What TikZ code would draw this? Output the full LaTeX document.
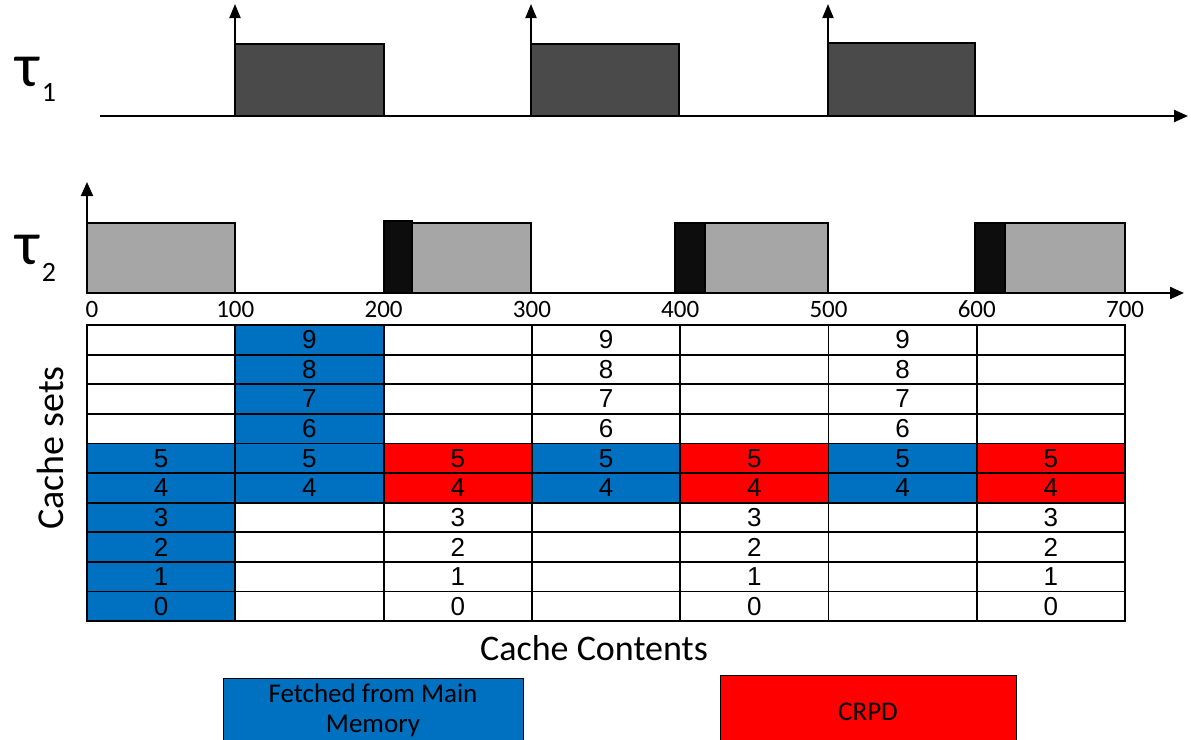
\documentclass[tikz,border=0pt]{standalone}
\usepackage{fontspec}
\setmainfont{Carlito}
\newfontfamily\digitfont{Liberation Sans}
\usetikzlibrary{arrows.meta}
\definecolor{fetchblue}{HTML}{0070C0}
\definecolor{crpdred}{HTML}{FF0000}
\definecolor{taskone}{HTML}{4A4A4A}
\definecolor{tasktwo}{HTML}{A6A6A6}
\definecolor{preempt}{HTML}{0D0D0D}
\tikzset{
  axis/.style={line width=2.2pt, -{Triangle[length=14pt,width=12pt]}},
  jobone/.style={draw=black, line width=1.2pt, fill=taskone},
  jobtwo/.style={draw=black, line width=1.2pt, fill=tasktwo},
  crpdbar/.style={draw=black, line width=1.2pt, fill=preempt},
  cell/.style={draw=black, line width=1.8pt, minimum width=148.3pt, minimum height=29.6pt, inner sep=0pt, font=\digitfont\fontsize{26}{26}\selectfont},
  fetchcell/.style={cell, fill=fetchblue},
  crpdcell/.style={cell, fill=crpdred},
  plaincell/.style={cell, fill=white},
  tick/.style={font=\fontsize{25}{25}\selectfont},
  tasklabel/.style={font=\fontsize{62}{62}\selectfont, inner sep=0pt},
  subl/.style={font=\fontsize{28}{28}\selectfont, inner sep=0pt},
  legendbox/.style={draw=black, line width=1.2pt, minimum width=300pt, minimum height=70pt},
  legendtext/.style={align=center, inner sep=0pt, font=\fontsize{27}{30}\selectfont}
}
\newcommand{\cx}[1]{87+148.3*#1+74.15}
\newcommand{\cy}[1]{325+(9-#1)*29.6+14.8}
\begin{document}
\begin{tikzpicture}[x=1pt,y=-1pt]
\useasboundingbox (0,0) rectangle (1191,739);
% ---------- Task 1 ----------
\node[tasklabel] (t1) at (28,72) {τ};
\node[subl] (t1s) at (49,92) {1};
\coordinate (a1s) at (100,116);
\coordinate (a1e) at (1188,116);
\draw[jobone] (235,44) rectangle (384,116);
\draw[jobone] (531,44) rectangle (679,116);
\draw[jobone] (828,43) rectangle (975,116);
\draw[axis] (a1s) -- (a1e);
\foreach \x [count=\i] in {235,531,828}{
  \coordinate (r\i b) at (\x,116);
  \coordinate (r\i t) at (\x,4);
  \draw[axis, line width=2pt, -{Triangle[length=14pt,width=11pt]}] (r\i b) -- (r\i t);
}
% ---------- Task 2 ----------
\node[tasklabel] (t2) at (28,250) {τ};
\node[subl] (t2s) at (49,272) {2};
\draw[jobtwo] (87,223) rectangle (235,293);
\draw[jobtwo] (384,223) rectangle (531,293);
\draw[jobtwo] (680,223) rectangle (828,293);
\draw[jobtwo] (977,223) rectangle (1125,293);
\draw[crpdbar] (384,221) rectangle (412,293);
\draw[crpdbar] (675,223) rectangle (705,293);
\draw[crpdbar] (975,223) rectangle (1005,293);
\coordinate (a2o) at (87,293);
\coordinate (a2y) at (87,182);
\coordinate (a2x) at (1184,293);
\draw[axis] (a2o) -- (a2x);
\draw[axis, line width=2pt] (a2o) -- (a2y);
\node[tick] (tk0) at (92,309) {0};
\foreach \v [count=\i from 1] in {100,200,300,400,500,600,700}{
  \node[tick] (tk\i) at ({87+148.3*\i},309) {\v};
}
% ---------- Cache grid ----------
% column 0
\foreach \r in {6,...,9} \node[plaincell] (c0-\r) at ({\cx{0}},{\cy{\r}}) {};
\foreach \r in {0,...,5} \node[fetchcell] (c0-\r) at ({\cx{0}},{\cy{\r}}) {\r};
% column 1
\foreach \r in {0,...,3} \node[plaincell] (c1-\r) at ({\cx{1}},{\cy{\r}}) {};
\foreach \r in {4,...,9} \node[fetchcell] (c1-\r) at ({\cx{1}},{\cy{\r}}) {\r};
% columns 2,4,6
\foreach \c in {2,4,6}{
  \foreach \r in {6,...,9} \node[plaincell] (c\c-\r) at ({\cx{\c}},{\cy{\r}}) {};
  \foreach \r in {4,5} \node[crpdcell] (c\c-\r) at ({\cx{\c}},{\cy{\r}}) {\r};
  \foreach \r in {0,...,3} \node[plaincell] (c\c-\r) at ({\cx{\c}},{\cy{\r}}) {\r};
}
% columns 3,5
\foreach \c in {3,5}{
  \foreach \r in {6,...,9} \node[plaincell] (c\c-\r) at ({\cx{\c}},{\cy{\r}}) {\r};
  \foreach \r in {4,5} \node[fetchcell] (c\c-\r) at ({\cx{\c}},{\cy{\r}}) {\r};
  \foreach \r in {0,...,3} \node[plaincell] (c\c-\r) at ({\cx{\c}},{\cy{\r}}) {};
}
\node[rotate=90, font=\fontsize{38}{38}\selectfont] (sets) at (50,448) {Cache sets};
\node[font=\fontsize{36}{36}\selectfont] (contents) at (594,648) {Cache Contents};
% ---------- Legend ----------
\node[legendbox, fill=fetchblue, anchor=north west] (lgfetch) at (223,678) {};
\node[legendtext, anchor=south] (lgfetcht) at (373,737) {Fetched from Main\\Memory};
\node[legendbox, fill=crpdred, anchor=north west, minimum width=296pt] (lgcrpd) at (720,675) {};
\node[legendtext] (lgcrpdt) at (868,712) {CRPD};
\end{tikzpicture}
\end{document}
